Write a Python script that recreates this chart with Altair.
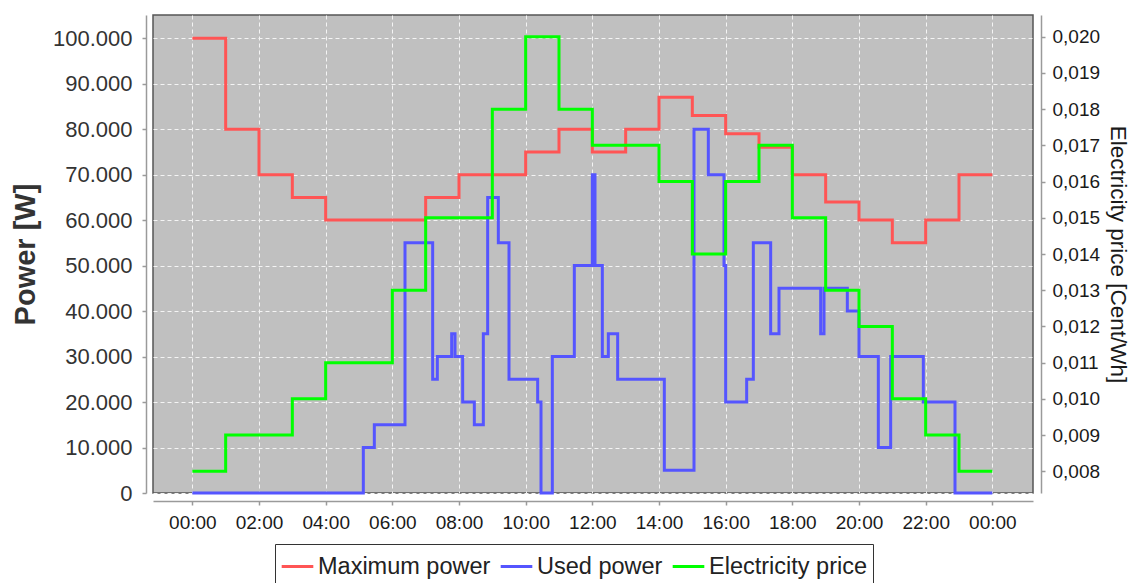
import altair as alt
import pandas as pd

# ---- data ----
series_names = ["Maximum power", "Used power", "Electricity price"]
series_colors = ["#ff5555", "#5555ff", "#00ff00"]

max_hours = list(range(25))
max_power = [100000, 80000, 70000, 65000, 60000, 60000, 60000, 65000, 70000, 70000,
             75000, 80000, 75000, 80000, 87000, 83000, 79000, 76000, 70000, 64000,
             60000, 55000, 60000, 70000, 70000]

price_hours = list(range(25))
price = [0.008, 0.009, 0.009, 0.010, 0.011, 0.011, 0.013, 0.015, 0.015, 0.018,
         0.020, 0.018, 0.017, 0.017, 0.016, 0.014, 0.016, 0.017, 0.015, 0.013,
         0.012, 0.010, 0.009, 0.008, 0.008]

used_hours = [0, 5.13, 5.46, 6.38, 7.21, 7.35, 7.78, 7.88, 8.11, 8.46,
              8.73, 8.86, 9.18, 9.5, 10.36, 10.46, 10.8, 11.46, 12.0, 12.08,
              12.3, 12.48, 12.76, 14.16, 15.05, 15.48, 15.95, 16.0, 16.63, 16.83,
              17.35, 17.6, 18.85, 18.95, 19.65, 20.0, 20.58, 20.95, 21.93, 22.88,
              24]
used_power = [0, 10000, 15000, 55000, 25000, 30000, 35000, 30000, 20000, 15000,
              35000, 65000, 55000, 25000, 20000, 0, 30000, 50000, 70000, 50000,
              30000, 35000, 25000, 5000, 80000, 70000, 50000, 20000, 25000, 55000,
              35000, 45000, 35000, 45000, 40000, 30000, 10000, 30000, 20000, 0,
              0]

x_ticks = [0, 2, 4, 6, 8, 10, 12, 14, 16, 18, 20, 22, 24]
power_ticks = [0, 10000, 20000, 30000, 40000, 50000, 60000, 70000, 80000, 90000, 100000]
price_ticks = [0.008, 0.009, 0.010, 0.011, 0.012, 0.013, 0.014, 0.015, 0.016,
               0.017, 0.018, 0.019, 0.020]

power_df = pd.concat([
    pd.DataFrame({"hour": max_hours, "value": max_power, "series": series_names[0], "ord": range(len(max_hours))}),
    pd.DataFrame({"hour": used_hours, "value": used_power, "series": series_names[1], "ord": range(len(used_hours))}),
], ignore_index=True)
price_df = pd.DataFrame({"hour": price_hours, "price": price, "series": series_names[2],
                         "ord": range(len(price_hours))})

FONT = "Liberation Sans"

color = alt.Color(
    "series:N",
    scale=alt.Scale(domain=series_names, range=series_colors),
    legend=alt.Legend(
        orient="none", legendX=122, legendY=529, direction="horizontal", title=None,
        symbolType="stroke", symbolSize=1000, symbolStrokeWidth=3,
        labelFontSize=23.5, labelFont=FONT, labelColor="#222222",
        strokeColor="#333333", fillColor="white", padding=5,
        columnPadding=3, labelOffset=3, labelLimit=0,
    ),
)

x_enc = alt.X(
    "hour:Q",
    scale=alt.Scale(domain=[-1.18, 25.22], nice=False, zero=False),
    axis=alt.Axis(
        values=x_ticks, title=None, offset=8,
        labelExpr="(datum.value % 24 < 10 ? '0' : '') + (datum.value % 24) + ':00'",
        labelFontSize=19, labelFont=FONT, labelColor="#1a1a1a", labelPadding=8,
        grid=True, gridColor="#f4f4f4", gridDash=[4, 3], gridWidth=1,
    ),
)

power_layer = alt.Chart(power_df).mark_line(
    interpolate="step-after", strokeWidth=3
).encode(
    x=x_enc,
    y=alt.Y(
        "value:Q",
        scale=alt.Scale(domain=[0, 105100], nice=False),
        axis=alt.Axis(
            values=power_ticks, title="Power [W]", offset=7,
            labelExpr="datum.value == 0 ? '0' : format(datum.value / 1000, 'd') + '.000'",
            labelFontSize=22, labelFont=FONT, labelColor="#333333", labelPadding=10,
            titleFontSize=29, titleFont=FONT, titleFontWeight="bold", titleColor="#333333",
            titlePadding=12,
            grid=True, gridColor="#f4f4f4", gridDash=[4, 3], gridWidth=1,
        ),
    ),
    color=color,
    order="ord:Q",
    detail="series:N",
)

price_layer = alt.Chart(price_df).mark_line(
    interpolate="step-after", strokeWidth=3
).encode(
    x=alt.X("hour:Q"),
    y=alt.Y(
        "price:Q",
        scale=alt.Scale(domain=[0.0074, 0.0206], nice=False, zero=False),
        axis=alt.Axis(
            orient="right", values=price_ticks, title="Electricity price [Cent/Wh]", offset=8,
            labelExpr="replace(format(datum.value, '.3f'), '.', ',')",
            labelFontSize=19, labelFont=FONT, labelColor="#1a1a1a", labelPadding=7,
            titleFontSize=22.5, titleFont=FONT, titleFontWeight="normal", titleColor="#1a1a1a",
            titlePadding=6, grid=False,
        ),
    ),
    color=color,
    order="ord:Q",
)

chart = alt.layer(power_layer, price_layer).resolve_scale(
    y="independent"
).properties(
    width=880, height=478,
    padding={"left": 145, "top": 7, "right": 98, "bottom": 90},
    autosize=alt.AutoSizeParams(type="none"),
    background="white",
).configure_view(
    fill="#c0c0c0", stroke="#555555", strokeWidth=1.5,
).configure_axis(
    domainColor="#9a9a9a", domainWidth=1.5, tickColor="#9a9a9a", tickSize=4, tickWidth=1.5,
)

chart.save("out.html", embed_options={"renderer": "svg", "actions": False})
